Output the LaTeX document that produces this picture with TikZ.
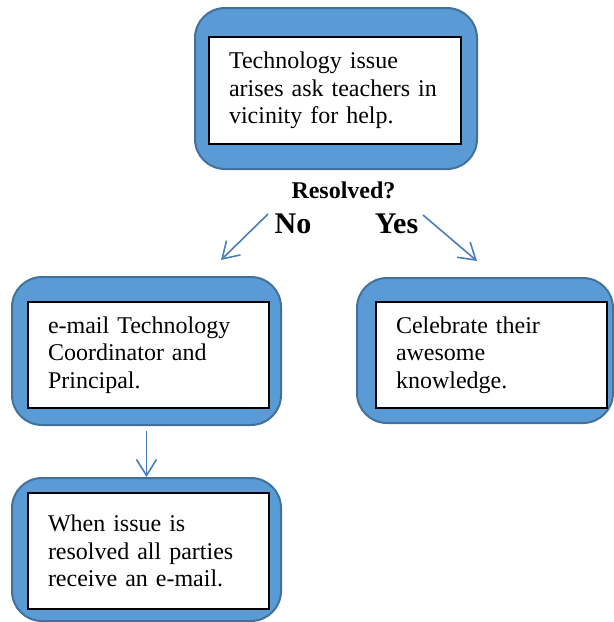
\documentclass[tikz,border=0pt]{standalone}
\usepackage{fontspec}
\setmainfont{Liberation Serif}
\usetikzlibrary{arrows.meta}

\definecolor{boxblue}{RGB}{91,155,213}
\definecolor{boxedge}{RGB}{65,113,156}
\definecolor{arrowblue}{RGB}{74,126,187}

\tikzset{
    outerbox/.style={draw=boxedge, fill=boxblue, line width=1pt, rounded corners=15pt},
    txtbox/.style={draw, fill=white, line width=0.6pt, inner xsep=10pt, align=left,
        font=\fontsize{12}{13.8}\selectfont},
    flow/.style={draw=arrowblue, line width=0.8pt, -{Straight Barb[length=8pt,width=10pt]}}
}

\begin{document}
\begin{tikzpicture}[x=0.5pt, y=-0.5pt]
            \useasboundingbox (0,0) rectangle (614,622);

            % draw outer blue boxes
            \node[outerbox, minimum width=141pt, minimum height=80.5pt] (issue) at (336,88.5) {};
            \node[outerbox, minimum width=134.5pt, minimum height=74pt] (email) at (146.5,351) {};
            \node[outerbox, minimum width=128pt, minimum height=72.5pt] (celebrate) at (485,350.5) {};
            \node[outerbox, minimum width=134.5pt, minimum height=71.5pt] (notify) at (146.5,549.5) {};

            % place text boxes
            \node[txtbox, text width=106pt, minimum height=53.5pt] (issuetxt) at (335,90.5)
                {Technology issue\\ arises ask teachers in\\ vicinity for help.};
            \node[txtbox, text width=100.5pt, minimum height=53pt] (emailtxt) at (148.5,355)
                {e-mail Technology\\ Coordinator and\\ Principal.};
            \node[txtbox, text width=95.5pt, minimum height=53pt] (celebratetxt) at (491.5,355)
                {Celebrate their\\ awesome\\ knowledge.};
            \node[txtbox, text width=100.5pt, minimum height=58pt] (notifytxt) at (148.5,551)
                {When issue is\\ resolved all parties\\ receive an e-mail.};

            % place question and answers
            \node[anchor=base, font=\fontsize{12}{14}\selectfont\bfseries] (resolved) at (343.5,198) {Resolved?};
            \node[anchor=base, font=\fontsize{15}{17}\selectfont\bfseries] (no) at (293,233) {No};
            \node[anchor=base, font=\fontsize{15}{17}\selectfont\bfseries] (yes) at (396.5,233) {Yes};

            % arrow end points
            \coordinate (nostart) at (268,214);
            \coordinate (noend) at (221,260);
            \coordinate (yesstart) at (423,215);
            \coordinate (yesend) at (477,261);

            % draw arrows
            \draw[flow] (nostart) -- (noend);
            \draw[flow] (yesstart) -- (yesend);
            \draw[flow, shorten <=2.5pt] (email.south) -- (notify.north);
        \end{tikzpicture}
\end{document}
